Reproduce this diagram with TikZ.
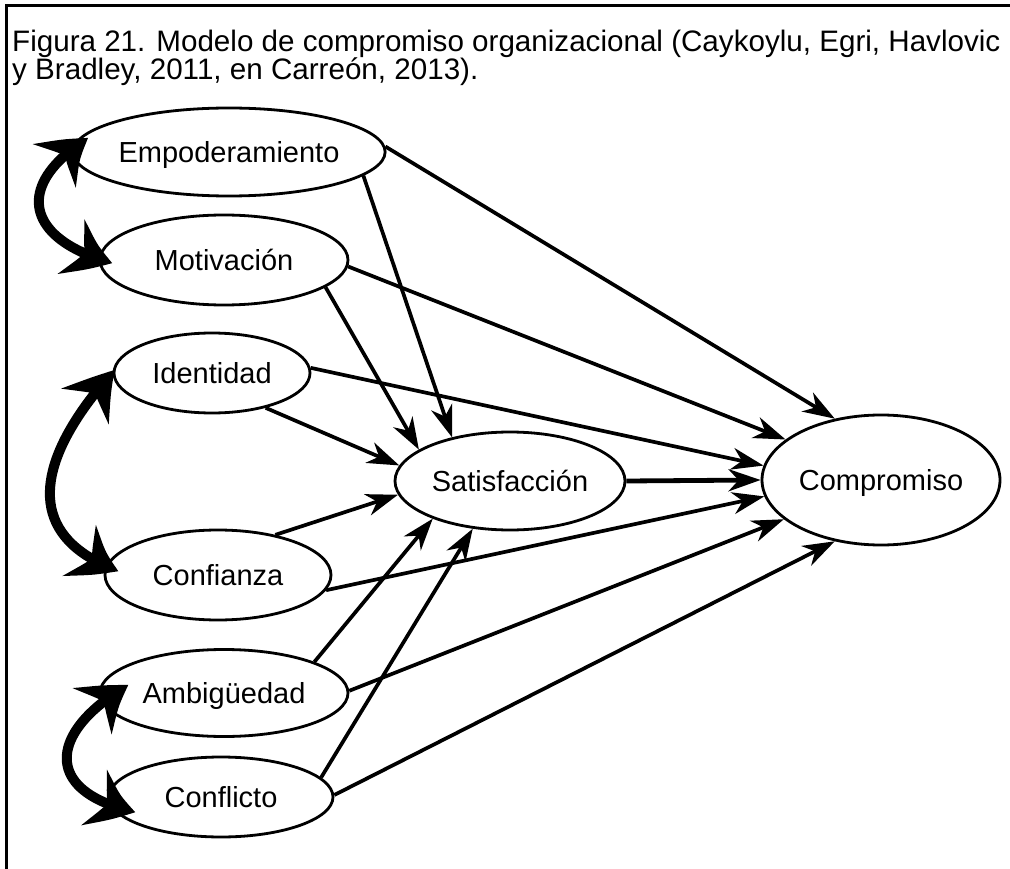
\documentclass[tikz,border=0pt]{standalone}
\usepackage{fontspec}
\setmainfont{Liberation Sans}
\usetikzlibrary{arrows.meta,shapes.geometric,bending}

\begin{document}
\begin{tikzpicture}[x=1pt,y=1pt,
  construct/.style={draw, ellipse, line width=2.8pt, inner sep=0pt,
    font=\fontsize{29}{30}\selectfont, text height=23.8pt, text depth=2.9pt},
  link/.style={line width=3.7pt, -{Stealth[length=32pt,width=22pt,inset=10pt]}},
  mainlink/.style={link, line width=4.8pt},
  covar/.style={line width=10pt,
    {Stealth[length=48pt,width=58pt,inset=17pt,bend]}-{Stealth[length=48pt,width=58pt,inset=17pt,bend]}}]

\useasboundingbox (0,0) rectangle (1010,-869);
\clip (0,0) rectangle (1010,-869);

% frame
\draw[line width=2.6pt] (6.5,-869) -- (6.5,-5.5) -- (1010,-5.5);

% caption (anchored on the baseline of its last line)
\node[anchor=base west, align=left, inner sep=0pt,
  font=\fontsize{29.6}{25}\selectfont] (title) at (12,-80)
  {Figura 21. Modelo de compromiso organizacional (Caykoylu, Egri, Havlovic\\
   y Bradley, 2011, en Carreón, 2013).};

% constructs
\node[construct, minimum width=288pt, minimum height=88pt] (emp) at (229,-152) {Empoderamiento};
\node[construct, minimum width=248pt, minimum height=90pt] (mot) at (224,-260) {Motivación};
\node[construct, minimum width=196pt, minimum height=80pt] (ide) at (212,-373) {Identidad};
\node[construct, minimum width=226pt, minimum height=90pt] (con) at (218,-575) {Confianza};
\node[construct, minimum width=248pt, minimum height=87pt] (amb) at (224,-693) {Ambigüedad};
\node[construct, minimum width=224pt, minimum height=80pt] (cfl) at (221,-797) {Conflicto};
\node[construct, minimum width=230pt, minimum height=98pt] (sat) at (510,-481) {Satisfacción};
\node[construct, minimum width=238pt, minimum height=130pt] (com) at (881,-480) {Compromiso};

% paths
\draw[link] (emp.2) -- (com.127);
\draw[link] (emp.-10) -- (sat.143);
\draw[link] (mot.-3) -- (com.157);
\draw[link] (mot.-15) -- (sat.161);
\draw[link] (ide.3) -- (com.173);
\draw[link] (ide.-33) -- (sat.172);
\draw[link] (con.35) -- (sat.-173);
\draw[link] (con.-8) -- (com.-172);
\draw[mainlink] (sat.0) -- (com.180);
\draw[link] (amb.19) -- (sat.-154);
\draw[link] (amb.1) -- (com.-158);
\draw[link] (cfl.11) -- (sat.-128);
\draw[link] (cfl.1) -- (com.-127);

% correlations
\draw[covar] ([shift={(17,14)}]emp.west) to[out=212, in=165, looseness=1.8] ([shift={(14,-3)}]mot.west);
\draw[covar] ([shift={(2,3)}]ide.west) to[out=228, in=160, looseness=1.4] ([shift={(15,4)}]con.west);
\draw[covar] ([shift={(30,8)}]amb.west) to[out=210, in=168, looseness=1.9] ([shift={(28,-15)}]cfl.west);
\end{tikzpicture}
\end{document}
